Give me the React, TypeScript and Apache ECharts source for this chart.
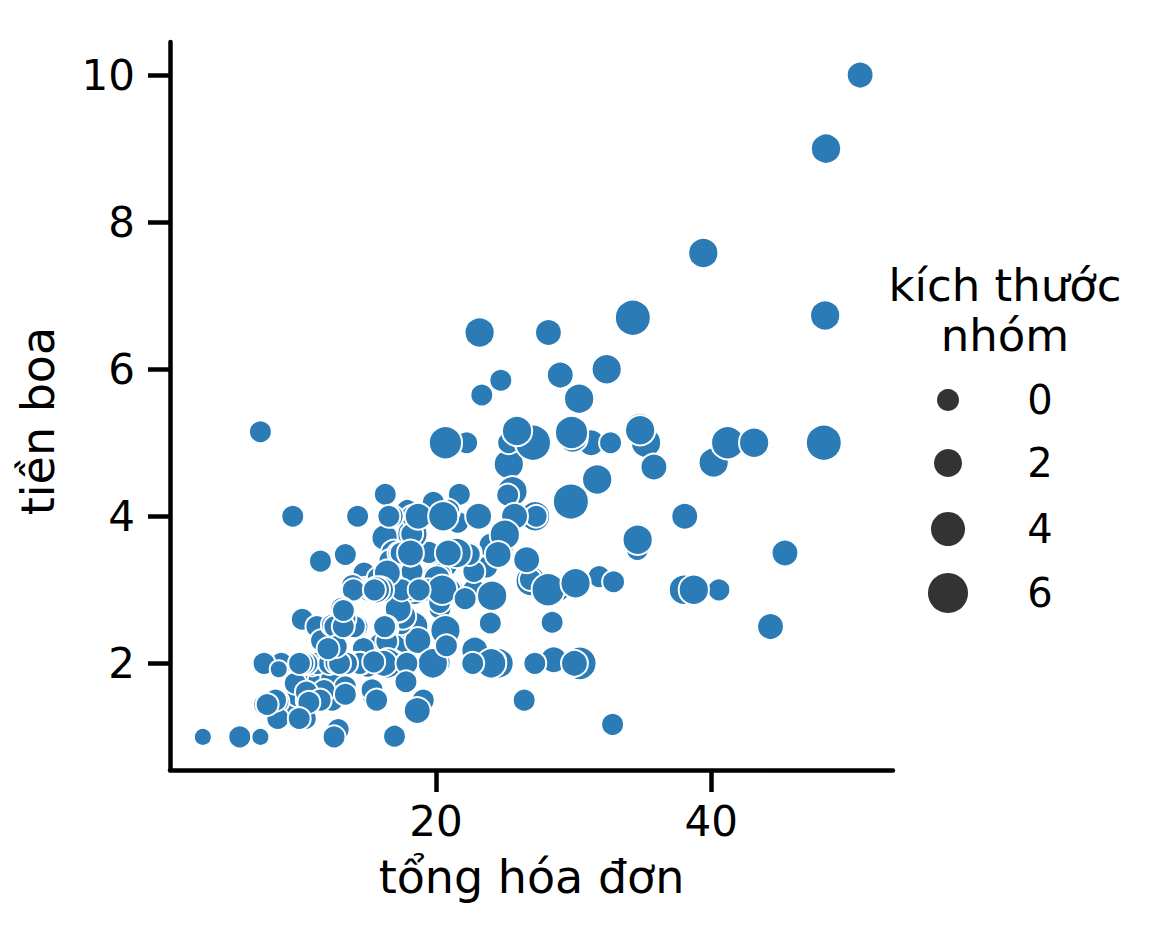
import React, { useEffect, useRef } from "react";
import * as echarts from "echarts";

// tổng hóa đơn (total bill)
const totalBill = [
  16.99, 10.34, 21.01, 23.68, 24.59, 25.29, 8.77, 26.88, 15.04, 14.78,
  10.27, 35.26, 15.42, 18.43, 14.83, 21.58, 10.33, 16.29, 16.97, 20.65,
  17.92, 20.29, 15.77, 39.42, 19.82, 17.81, 13.37, 12.69, 21.7, 19.65,
  9.55, 18.35, 15.06, 20.69, 17.78, 24.06, 16.31, 16.93, 18.69, 31.27,
  16.04, 17.46, 13.94, 9.68, 30.4, 18.29, 22.23, 32.4, 28.55, 18.04,
  12.54, 10.29, 34.81, 9.94, 25.56, 19.49, 38.01, 26.41, 11.24, 48.27,
  20.29, 13.81, 11.02, 18.29, 17.59, 20.08, 16.45, 3.07, 20.23, 15.01,
  12.02, 17.07, 26.86, 25.28, 14.73, 10.51, 17.92, 27.2, 22.76, 17.29,
  19.44, 16.66, 10.07, 32.68, 15.98, 34.83, 13.03, 18.28, 24.71, 21.16,
  28.97, 22.49, 5.75, 16.32, 22.75, 40.17, 27.28, 12.03, 21.01, 12.46,
  11.35, 15.38, 44.3, 22.42, 20.92, 15.36, 20.49, 25.21, 18.24, 14.31,
  14.0, 7.25, 38.07, 23.95, 25.71, 17.31, 29.93, 10.65, 12.43, 24.08,
  11.69, 13.42, 14.26, 15.95, 12.48, 29.8, 8.52, 14.52, 11.38, 22.82,
  19.08, 20.27, 11.17, 12.26, 18.26, 8.51, 10.33, 14.15, 16.0, 13.16,
  17.47, 34.3, 41.19, 27.05, 16.43, 8.35, 18.64, 11.87, 9.78, 7.51,
  14.07, 13.13, 17.26, 24.55, 19.77, 29.85, 48.17, 25.0, 13.39, 16.49,
  21.5, 12.66, 16.21, 13.81, 17.51, 24.52, 20.76, 31.71, 10.59, 10.63,
  50.81, 15.81, 7.25, 31.85, 16.82, 32.9, 17.89, 14.48, 9.6, 34.63,
  34.65, 23.33, 45.35, 23.17, 40.55, 20.69, 20.9, 30.46, 18.15, 23.1,
  15.69, 19.81, 28.44, 15.48, 16.58, 7.56, 10.34, 43.11, 13.0, 13.51,
  18.71, 12.74, 13.0, 16.4, 20.53, 16.47, 26.59, 38.73, 24.27, 12.76,
  30.06, 25.89, 48.33, 13.27, 28.17, 12.9, 28.15, 11.59, 7.74, 30.14,
  12.16, 13.42, 8.58, 15.98, 13.42, 16.27, 10.09, 20.45, 13.28, 22.12,
  24.01, 15.69, 11.61, 10.77, 15.53, 10.07, 12.6, 32.83, 35.83, 29.03,
  27.18, 22.67, 17.82, 18.78,
];

// tiền boa (tip)
const tipAmount = [
  1.01, 1.66, 3.5, 3.31, 3.61, 4.71, 2.0, 3.12, 1.96, 3.23,
  1.71, 5.0, 1.57, 3.0, 3.02, 3.92, 1.67, 3.71, 3.5, 3.35,
  4.08, 2.75, 2.23, 7.58, 3.18, 2.34, 2.0, 2.0, 4.3, 3.0,
  1.45, 2.5, 3.0, 2.45, 3.27, 3.6, 2.0, 3.07, 2.31, 5.0,
  2.24, 2.54, 3.06, 1.32, 5.6, 3.0, 5.0, 6.0, 2.05, 3.0,
  2.5, 2.6, 5.2, 1.56, 4.34, 3.51, 3.0, 1.5, 1.76, 6.73,
  3.21, 2.0, 1.98, 3.76, 2.64, 3.15, 2.47, 1.0, 2.01, 2.09,
  1.97, 3.0, 3.14, 5.0, 2.2, 1.25, 3.08, 4.0, 3.0, 2.71,
  3.0, 3.4, 1.83, 5.0, 2.03, 5.17, 2.0, 4.0, 5.85, 3.0,
  3.0, 3.5, 1.0, 4.3, 3.25, 4.73, 4.0, 1.5, 3.0, 1.5,
  2.5, 3.0, 2.5, 3.48, 4.08, 1.64, 4.06, 4.29, 3.76, 4.0,
  3.0, 1.0, 4.0, 2.55, 4.0, 3.5, 5.07, 1.5, 1.8, 2.92,
  2.31, 1.68, 2.5, 2.0, 2.52, 4.2, 1.48, 2.0, 2.0, 2.18,
  1.5, 2.83, 1.5, 2.0, 3.25, 1.25, 2.0, 2.0, 2.0, 2.75,
  3.5, 6.7, 5.0, 5.0, 2.3, 1.5, 1.36, 1.63, 1.73, 2.0,
  2.5, 2.0, 2.74, 2.0, 2.0, 5.14, 5.0, 3.75, 2.61, 2.0,
  3.5, 2.5, 2.0, 2.0, 3.0, 3.48, 2.24, 4.5, 1.61, 2.0,
  10.0, 3.16, 5.15, 3.18, 4.0, 3.11, 2.0, 2.0, 4.0, 3.55,
  3.68, 5.65, 3.5, 6.5, 3.0, 5.0, 3.5, 2.0, 3.5, 4.0,
  1.5, 4.19, 2.56, 2.02, 4.0, 1.44, 2.0, 5.0, 2.0, 2.0,
  4.0, 2.01, 2.0, 2.5, 4.0, 3.23, 3.41, 3.0, 2.03, 2.23,
  2.0, 5.16, 9.0, 2.5, 6.5, 1.1, 3.0, 1.5, 1.44, 3.09,
  2.2, 3.48, 1.92, 3.0, 1.58, 2.5, 2.0, 3.0, 2.72, 2.88,
  2.0, 3.0, 3.39, 1.47, 3.0, 1.25, 1.0, 1.17, 4.67, 5.92,
  2.0, 2.0, 1.75, 3.0,
];

// kích thước nhóm (party size)
const partySize = [
  2, 3, 3, 2, 4, 4, 2, 4, 2, 2,
  2, 4, 2, 4, 2, 2, 3, 3, 3, 3,
  2, 2, 2, 4, 2, 4, 2, 2, 2, 2,
  2, 4, 2, 4, 2, 3, 3, 3, 3, 3,
  3, 2, 2, 2, 4, 2, 2, 4, 3, 2,
  2, 2, 4, 2, 4, 2, 4, 2, 2, 4,
  2, 2, 2, 4, 3, 3, 2, 1, 2, 2,
  2, 3, 2, 2, 2, 2, 2, 4, 2, 2,
  2, 2, 1, 2, 2, 4, 2, 2, 2, 2,
  2, 2, 2, 2, 2, 4, 2, 2, 2, 2,
  2, 2, 3, 2, 2, 2, 2, 2, 2, 2,
  2, 1, 3, 2, 3, 2, 4, 2, 2, 4,
  2, 2, 2, 2, 2, 6, 2, 2, 2, 3,
  2, 2, 2, 2, 2, 2, 2, 2, 2, 2,
  2, 6, 5, 6, 2, 2, 3, 2, 2, 2,
  2, 2, 3, 4, 4, 5, 6, 4, 2, 4,
  4, 2, 3, 2, 2, 3, 2, 4, 2, 2,
  3, 2, 2, 2, 2, 2, 2, 2, 2, 2,
  4, 2, 3, 4, 2, 5, 3, 5, 3, 3,
  2, 2, 2, 2, 2, 2, 2, 4, 2, 2,
  3, 2, 2, 2, 4, 3, 3, 4, 2, 2,
  3, 4, 4, 2, 3, 2, 5, 2, 2, 4,
  2, 2, 1, 3, 2, 2, 2, 4, 2, 2,
  4, 3, 2, 2, 2, 2, 2, 2, 3, 3,
  2, 2, 2, 2,
];

const xTicks = [20, 40];
const yTicks = [2, 4, 6, 8, 10];
const legendLevels = [0, 2, 4, 6];

const xLabel = "tổng hóa đơn";
const yLabel = "tiền boa";
const legendTitle1 = "kích thước";
const legendTitle2 = "nhóm";

const POINT_COLOR = "#2a7bb6";
const LEGEND_COLOR = "#333333";
const FONT = "DejaVu Sans";
const BORDER = 2;

const markerSize = (s: number) => Math.sqrt(256 + 180 * (s - 1)) + BORDER;
const legendMarkerSize = (s: number) => 22 + 3 * s;

export default function App() {
  const ref = useRef<HTMLDivElement>(null);

  useEffect(() => {
    if (!ref.current) return;
    const chart = echarts.init(ref.current, undefined, { renderer: "svg" });

    const xMinD = Math.min(...totalBill);
    const xMaxD = Math.max(...totalBill);
    const yMinD = Math.min(...tipAmount);
    const yMaxD = Math.max(...tipAmount);
    const xPad = (xMaxD - xMinD) * 0.05;
    const yPad = (yMaxD - yMinD) * 0.05;

    const data = totalBill.map((b, i) => [b, tipAmount[i], partySize[i]]);

    const legendRowsY = [400, 463, 529, 593];
    const legendGraphics: any[] = [];
    legendLevels.forEach((lv, i) => {
      legendGraphics.push({
        type: "circle",
        shape: { cx: 948, cy: legendRowsY[i], r: legendMarkerSize(lv) / 2 },
        style: { fill: LEGEND_COLOR },
      });
      legendGraphics.push({
        type: "text",
        x: 1040,
        y: legendRowsY[i],
        style: {
          text: String(lv),
          fontSize: 40,
          fontFamily: FONT,
          fill: "#000",
          textAlign: "center",
          textVerticalAlign: "middle",
        },
      });
    });

    chart.setOption({
      animation: false,
      backgroundColor: "#ffffff",
      grid: { left: 170, top: 42, width: 723, height: 728, containLabel: false },
      xAxis: {
        type: "value",
        min: xMinD - xPad,
        max: xMaxD + xPad,
        name: xLabel,
        nameLocation: "middle",
        nameGap: 84,
        nameTextStyle: { fontSize: 46, fontFamily: FONT, color: "#000" },
        axisLine: { show: true, lineStyle: { color: "#000", width: 4.5 } },
        axisTick: { show: true, inside: false, length: 22, lineStyle: { color: "#000", width: 4.5 }, customValues: xTicks },
        axisLabel: { fontSize: 42, fontFamily: FONT, color: "#000", margin: 30, customValues: xTicks },
        splitLine: { show: false },
      },
      yAxis: {
        type: "value",
        min: yMinD - yPad,
        max: yMaxD + yPad,
        axisLine: { show: true, lineStyle: { color: "#000", width: 4.5 } },
        axisTick: { show: true, inside: false, length: 22, lineStyle: { color: "#000", width: 4.5 }, customValues: yTicks },
        axisLabel: { fontSize: 42, fontFamily: FONT, color: "#000", margin: 35, customValues: yTicks },
        splitLine: { show: false },
      },
      graphic: [
        {
          type: "text",
          x: 38,
          y: 421,
          rotation: Math.PI / 2,
          style: {
            text: yLabel,
            fontSize: 46,
            fontFamily: FONT,
            fill: "#000",
            textAlign: "center",
            textVerticalAlign: "middle",
          },
        },
        {
          type: "text",
          x: 1005,
          y: 285,
          style: {
            text: legendTitle1,
            fontSize: 45,
            fontFamily: FONT,
            fill: "#000",
            textAlign: "center",
            textVerticalAlign: "middle",
          },
        },
        {
          type: "text",
          x: 1005,
          y: 335,
          style: {
            text: legendTitle2,
            fontSize: 45,
            fontFamily: FONT,
            fill: "#000",
            textAlign: "center",
            textVerticalAlign: "middle",
          },
        },
        ...legendGraphics,
      ],
      series: [
        {
          type: "scatter",
          data,
          symbol: "circle",
          symbolSize: (v: number[]) => markerSize(v[2]),
          itemStyle: { color: POINT_COLOR, borderColor: "#ffffff", borderWidth: BORDER, opacity: 1 },
          emphasis: { disabled: true },
        },
      ],
    });

    return () => chart.dispose();
  }, []);

  return (
    <div
      ref={ref}
      style={{ position: "fixed", left: 0, top: 0, width: 1152, height: 928, background: "#fff" }}
    />
  );
}
